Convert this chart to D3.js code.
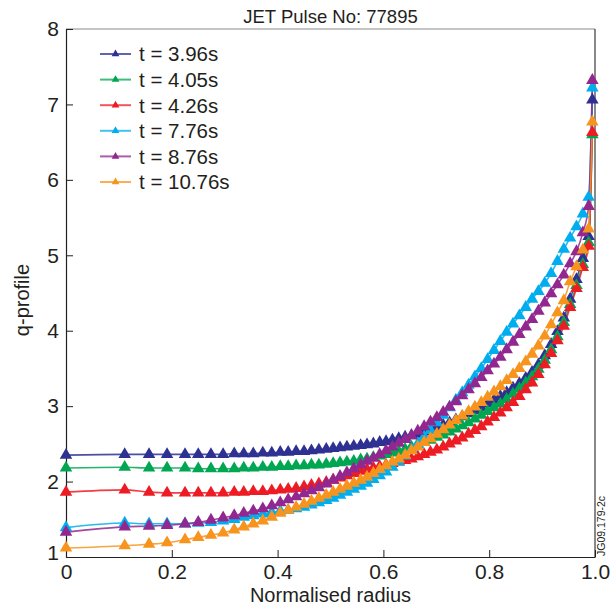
<!DOCTYPE html>
<html>
<head>
<meta charset="utf-8">
<script src="https://cdn.jsdelivr.net/npm/d3@7"></script>
<style>
  body { margin: 0; background: #fff; }
  text { font-family: "Liberation Sans", Arial, Helvetica, sans-serif; fill: #231f20; }
</style>
</head>
<body>
<div id="chart"></div>
<script>
var svgWidth = 610;
var svgHeight = 613;

var margin = { top: 29, right: 15, bottom: 56, left: 66 };
var width = svgWidth - margin.left - margin.right;
var height = svgHeight - margin.top - margin.bottom;

// Data
var title = "JET Pulse No: 77895";
var xTicks = [0, 0.2, 0.4, 0.6, 0.8, 1.0];
var xTickLabels = ["0", "0.2", "0.4", "0.6", "0.8", "1.0"];
var yTicks = [1, 2, 3, 4, 5, 6, 7, 8];

var seriesNames = ["t = 3.96s", "t = 4.05s", "t = 4.26s", "t = 7.76s", "t = 8.76s", "t = 10.76s"];
var seriesColors = ["#2e3192", "#00a651", "#ed1c24", "#00aeef", "#92278f", "#f7941d"];

var radius = [0, 0.111, 0.157, 0.191, 0.225, 0.250, 0.274, 0.297, 0.318, 0.336,
  0.354, 0.372, 0.389, 0.405, 0.420, 0.435, 0.450, 0.464, 0.478, 0.492,
  0.505, 0.518, 0.531, 0.544, 0.557, 0.569, 0.581, 0.593, 0.605, 0.617,
  0.629, 0.641, 0.653, 0.665, 0.677, 0.689, 0.701, 0.713, 0.725, 0.737,
  0.749, 0.761, 0.773, 0.785, 0.797, 0.809, 0.821, 0.833, 0.845, 0.857,
  0.869, 0.881, 0.893, 0.905, 0.917, 0.929, 0.941, 0.953, 0.965, 0.977,
  0.988, 0.995];

var q396 = [2.35, 2.36, 2.36, 2.36, 2.36, 2.36, 2.36, 2.36, 2.37, 2.37,
  2.37, 2.38, 2.38, 2.39, 2.39, 2.40, 2.40, 2.41, 2.42, 2.43,
  2.44, 2.45, 2.46, 2.47, 2.48, 2.49, 2.50, 2.52, 2.53, 2.55,
  2.57, 2.59, 2.61, 2.63, 2.66, 2.69, 2.72, 2.75, 2.78, 2.82,
  2.86, 2.90, 2.94, 2.98, 3.03, 3.08, 3.13, 3.18, 3.24, 3.30,
  3.37, 3.45, 3.55, 3.67, 3.82, 3.99, 4.17, 4.42, 4.68, 4.96,
  5.25, 7.06];

var q405 = [2.18, 2.19, 2.18, 2.18, 2.18, 2.17, 2.17, 2.17, 2.17, 2.18,
  2.18, 2.19, 2.19, 2.20, 2.20, 2.21, 2.21, 2.22, 2.22, 2.23,
  2.24, 2.25, 2.26, 2.27, 2.29, 2.30, 2.32, 2.34, 2.36, 2.38,
  2.40, 2.43, 2.46, 2.49, 2.52, 2.55, 2.59, 2.62, 2.66, 2.70,
  2.74, 2.78, 2.83, 2.88, 2.93, 2.98, 3.03, 3.09, 3.16, 3.23,
  3.31, 3.39, 3.49, 3.61, 3.75, 3.92, 4.11, 4.35, 4.60, 4.88,
  5.17, 6.60];

var q426 = [1.86, 1.89, 1.86, 1.85, 1.85, 1.85, 1.85, 1.85, 1.86, 1.86,
  1.87, 1.87, 1.88, 1.89, 1.90, 1.91, 1.93, 1.95, 1.97, 1.99,
  2.02, 2.05, 2.08, 2.11, 2.14, 2.16, 2.18, 2.20, 2.22, 2.24,
  2.26, 2.28, 2.30, 2.33, 2.36, 2.39, 2.42, 2.46, 2.50, 2.54,
  2.58, 2.63, 2.68, 2.73, 2.79, 2.85, 2.91, 2.98, 3.05, 3.13,
  3.22, 3.31, 3.42, 3.55, 3.70, 3.87, 4.06, 4.31, 4.56, 4.84,
  5.12, 6.63];

var q776 = [1.39, 1.45, 1.44, 1.44, 1.44, 1.45, 1.46, 1.48, 1.50, 1.53,
  1.55, 1.57, 1.59, 1.61, 1.62, 1.64, 1.66, 1.69, 1.72, 1.75,
  1.78, 1.82, 1.86, 1.90, 1.94, 1.98, 2.03, 2.08, 2.13, 2.19,
  2.26, 2.34, 2.42, 2.50, 2.59, 2.68, 2.78, 2.88, 2.98, 3.08,
  3.18, 3.28, 3.39, 3.50, 3.62, 3.74, 3.86, 3.98, 4.09, 4.20,
  4.31, 4.42, 4.52, 4.63, 4.76, 4.92, 5.08, 5.23, 5.38, 5.55,
  5.77, 7.22];

var q876 = [1.33, 1.40, 1.41, 1.42, 1.44, 1.46, 1.49, 1.52, 1.55, 1.58,
  1.61, 1.64, 1.68, 1.72, 1.76, 1.80, 1.84, 1.88, 1.92, 1.97,
  2.02, 2.07, 2.12, 2.17, 2.22, 2.27, 2.31, 2.36, 2.41, 2.46,
  2.51, 2.56, 2.61, 2.67, 2.73, 2.79, 2.85, 2.92, 2.99, 3.06,
  3.14, 3.22, 3.30, 3.38, 3.47, 3.56, 3.65, 3.75, 3.85, 3.95,
  4.05, 4.15, 4.26, 4.37, 4.49, 4.61, 4.74, 4.89, 5.05, 5.30,
  5.65, 7.32];

var q1076 = [1.12, 1.15, 1.17, 1.19, 1.23, 1.26, 1.29, 1.32, 1.36, 1.40,
  1.44, 1.48, 1.53, 1.58, 1.62, 1.66, 1.70, 1.74, 1.78, 1.82,
  1.86, 1.90, 1.94, 1.98, 2.02, 2.06, 2.11, 2.16, 2.21, 2.26,
  2.30, 2.35, 2.41, 2.46, 2.52, 2.57, 2.63, 2.69, 2.75, 2.81,
  2.87, 2.93, 2.99, 3.05, 3.12, 3.19, 3.26, 3.34, 3.42, 3.50,
  3.59, 3.69, 3.80, 3.93, 4.08, 4.24, 4.40, 4.65, 4.85, 5.07,
  5.35, 6.77];

var seriesValues = [q396, q405, q426, q776, q876, q1076];

var series = seriesNames.map((name, i) => ({
  name: name,
  color: seriesColors[i],
  points: radius.map((r, j) => ({ r: r, q: seriesValues[i][j] }))
}));

var svg = d3.select("#chart")
  .append("svg")
  .attr("width", svgWidth)
  .attr("height", svgHeight);

var chartGroup = svg.append("g")
  .attr("transform", `translate(${margin.left}, ${margin.top})`);

var xScale = d3.scaleLinear().domain([0, 1]).range([0, width]);
var yScale = d3.scaleLinear().domain([1, 8]).range([height, 0]);

// frame: top and right edges
chartGroup.append("line")
  .attr("x1", 0).attr("x2", width).attr("y1", 0).attr("y2", 0)
  .attr("stroke", "#8a8a8a").attr("stroke-width", 1.2);
chartGroup.append("line")
  .attr("x1", width).attr("x2", width).attr("y1", 0).attr("y2", height)
  .attr("stroke", "#3a3a3a").attr("stroke-width", 1.2);

// axes with inward ticks
var bottomAxis = d3.axisBottom(xScale)
  .tickValues(xTicks)
  .tickFormat((d, i) => xTickLabels[i])
  .tickSizeInner(-7).tickSizeOuter(0).tickPadding(14);
var leftAxis = d3.axisLeft(yScale)
  .tickValues(yTicks)
  .tickFormat(d3.format("d"))
  .tickSizeInner(-7).tickSizeOuter(0).tickPadding(14);

var xAxisG = chartGroup.append("g")
  .attr("transform", `translate(0, ${height})`)
  .call(bottomAxis);
var yAxisG = chartGroup.append("g").call(leftAxis);

[xAxisG, yAxisG].forEach(g => {
  g.select(".domain").attr("stroke", "#231f20").attr("stroke-width", 1.2);
  g.selectAll(".tick line").attr("stroke", "#231f20").attr("stroke-width", 1);
  g.selectAll(".tick text")
    .attr("font-size", "21px")
    .attr("font-family", "Liberation Sans, Arial, sans-serif")
    .attr("fill", "#231f20");
});
xAxisG.selectAll(".tick text").attr("dy", "0.75em").attr("y", 6);
yAxisG.selectAll(".tick text").attr("x", -7);
yAxisG.selectAll(".tick text").filter(d => d === 1).attr("dy", "0.1em");

// lines and markers
var line = d3.line()
  .x(d => xScale(d.r))
  .y(d => yScale(d.q))
  .curve(d3.curveMonotoneX);

var tri = d3.symbol().type(d3.symbolTriangle).size(68);

series.forEach(s => {
  chartGroup.append("path")
    .datum(s.points)
    .attr("d", line)
    .attr("fill", "none")
    .attr("stroke", s.color)
    .attr("stroke-opacity", 0.85)
    .attr("stroke-width", 1.6);
});

series.forEach(s => {
  chartGroup.append("g")
    .selectAll("path")
    .data(s.points)
    .enter()
    .append("path")
    .attr("d", tri)
    .attr("transform", d => `translate(${xScale(d.r)}, ${yScale(d.q)})`)
    .attr("fill", s.color);
});

// legend
var legend = chartGroup.append("g")
  .attr("transform", "translate(34, 25)");
var legendRow = legend.selectAll("g")
  .data(series)
  .enter()
  .append("g")
  .attr("transform", (d, i) => `translate(0, ${i * 25.6})`);
legendRow.append("line")
  .attr("x1", 0).attr("x2", 31)
  .attr("stroke", d => d.color)
  .attr("stroke-opacity", 0.75)
  .attr("stroke-width", 2);
legendRow.append("path")
  .attr("d", d3.symbol().type(d3.symbolTriangle).size(26))
  .attr("transform", "translate(15.5, 0)")
  .attr("fill", d => d.color);
legendRow.append("text")
  .attr("x", 39)
  .attr("dy", "0.36em")
  .attr("font-size", "20.5px")
  .text(d => d.name);

// title and axis labels
svg.append("text")
  .attr("x", margin.left + width / 2)
  .attr("y", 23)
  .attr("text-anchor", "middle")
  .attr("font-size", "18.5px")
  .text(title);

svg.append("text")
  .attr("x", margin.left + width / 2)
  .attr("y", 602)
  .attr("text-anchor", "middle")
  .attr("font-size", "20px")
  .text("Normalised radius");

svg.append("text")
  .attr("transform", "rotate(-90)")
  .attr("x", -300)
  .attr("y", 29)
  .attr("text-anchor", "middle")
  .attr("font-size", "20px")
  .text("q-profile");

svg.append("text")
  .attr("transform", "translate(605, 556) rotate(-90)")
  .attr("font-size", "10.5px")
  .text("JG09.179-2c");
</script>
</body>
</html>
